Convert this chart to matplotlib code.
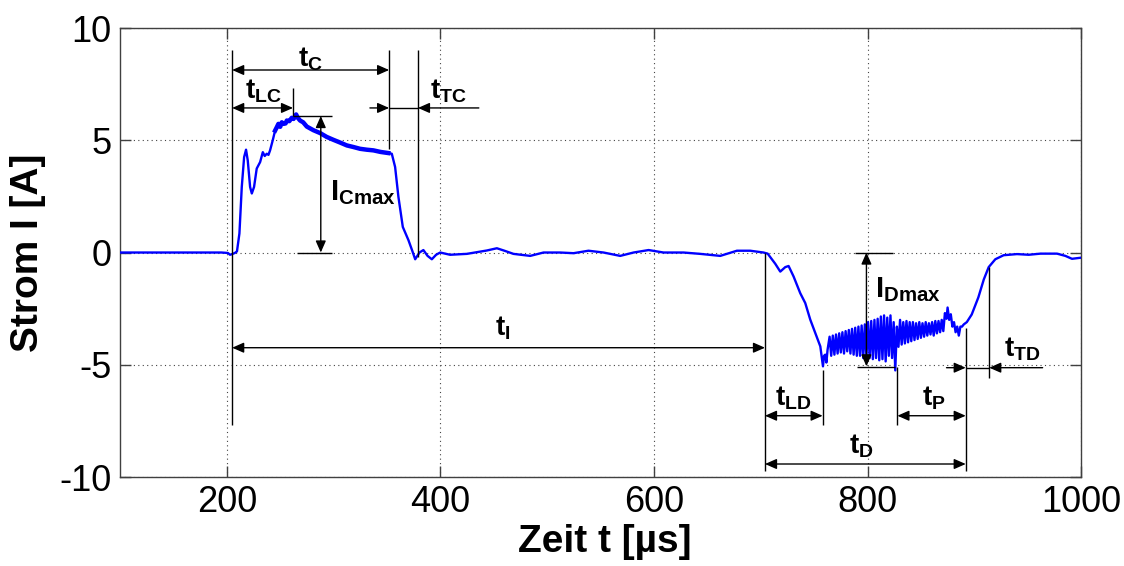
import numpy as np
import matplotlib
matplotlib.use("Agg")
import matplotlib.pyplot as plt

plt.rcParams['font.family'] = ['Liberation Sans', 'DejaVu Sans']
plt.rcParams['mathtext.fontset'] = 'custom'
plt.rcParams['mathtext.rm'] = 'Liberation Sans'
plt.rcParams['mathtext.bf'] = 'Liberation Sans:bold'
plt.rcParams['axes.unicode_minus'] = False

charge_t = [100, 150, 195, 201, 203, 205, 207.5, 209.5, 211.8, 214, 216.2, 218, 219.6,
            221.8, 223.4, 225.5, 228, 231.2, 233.7, 235.5, 237.4, 239, 240.5, 243, 245.2,
            247, 248.3, 250, 251.5, 253, 255, 256.2, 258.5, 260.8, 262.5, 264.9, 266.5,
            268.6, 271.5, 274.9, 281, 287.4, 293.5, 299.8, 306, 312.4, 318.5, 324.8, 331,
            337.3, 344, 351.3, 354.5, 357.6, 360.7, 364.8, 370.1, 373.5, 376.4, 380.4,
            384.1, 388, 392, 396, 399.8]
charge_i = [0.0, 0.0, 0.0, -0.02, -0.1, -0.07, -0.02, 0.05, 0.85, 2.92, 4.25, 4.58, 4.1,
            2.92, 2.63, 2.92, 3.74, 4.03, 4.47, 4.3, 4.4, 4.35, 4.55, 5.0, 5.43,
            5.6, 5.73, 5.6, 5.8, 5.73, 5.75, 5.88, 5.85, 6.0, 5.95, 6.15, 6.0,
            5.88, 5.8, 5.61, 5.45, 5.32, 5.15, 5.02, 4.9, 4.77, 4.7, 4.62, 4.58,
            4.55, 4.48, 4.43, 4.4, 3.81, 2.48, 1.14, 0.55, 0.1, -0.3, 0.0,
            0.11, -0.15, -0.3, -0.1, 0.0]

pause_t = [409.1, 424.8, 443.5, 452.9, 460, 468.4, 484.1, 496.6, 512.2, 524.7, 538.7,
           552.8, 568.4, 580.9, 595, 609, 627.7, 643.3, 662.1, 677.7, 690.2, 702.6]
pause_i = [-0.1, -0.06, 0.09, 0.19, 0.08, -0.06, -0.15, 0.0, 0.0, -0.03, 0.08,
           0.0, -0.15, 0.0, 0.11, 0.0, 0.0, -0.06, -0.15, 0.08, 0.08, 0.0]

fall_t = [706.5, 708.9, 713.6, 718.3, 723, 726.1, 730.8, 737, 741.7, 746.4, 751.1,
          755.8, 757.2, 758.3, 759.3, 760.4, 761.5, 762.6]
fall_i = [-0.05, -0.2, -0.5, -0.85, -0.65, -0.6, -1.07, -1.81, -2.25, -2.99, -3.58,
          -4.18, -4.7, -5.07, -4.6, -4.55, -4.9, -4.33]

osc_t = [764.5, 766.0, 767.5, 769.0, 770.5, 772.0, 773.5, 775.0, 776.5, 778.0, 779.5,
         781.0, 782.5, 784.0, 785.5, 787.0, 788.5, 790.0, 791.5, 793.0, 794.5, 796.0,
         797.5, 799.0, 800.5, 802.0, 803.5, 805.0, 806.5, 808.0, 809.5, 811.0, 812.5,
         814.0, 815.5, 817.0, 818.5, 820.0, 821.5, 823.0, 824.5, 826.0, 827.5, 829.0,
         830.5, 832.0, 833.5, 835.0, 836.5, 838.0, 839.5, 841.0, 842.5, 844.0, 845.5,
         847.0, 848.5, 850.0, 851.5, 853.0, 854.5, 856.0, 857.5, 859.0, 860.5, 862.0,
         863.5, 865.0, 866.5, 868.0, 869.5, 871.0, 872.5, 874.0, 875.0, 876.5, 878.0,
         879.5, 881.0, 882.5, 884.0, 885.5, 887.0, 888.5]
osc_i = [-3.75, -4.6, -3.7, -4.55, -3.65, -4.5, -3.6, -4.45, -3.55, -4.5, -3.5,
         -4.4, -3.45, -4.5, -3.4, -4.55, -3.35, -4.6, -3.3, -4.6, -3.25, -4.7,
         -3.2, -4.65, -3.1, -4.7, -3.05, -4.75, -3.0, -4.7, -2.95, -4.8, -2.85,
         -4.75, -2.8, -4.85, -2.9, -4.6, -2.8, -4.7, -3.1, -5.25, -3.3, -4.2,
         -3.0, -4.1, -3.1, -4.05, -3.05, -4.0, -3.1, -3.95, -3.1, -3.9, -3.15,
         -3.85, -3.1, -3.8, -3.15, -3.75, -3.1, -3.7, -3.15, -3.65, -3.1, -3.7,
         -3.05, -3.6, -3.05, -3.55, -3.0, -3.5, -2.7, -2.95, -2.45, -3.0, -2.75,
         -3.3, -3.1, -3.55, -3.3, -3.7, -3.3, -3.3]

rise_t = [890.2, 893, 897.6, 903.8, 908.9, 913.5, 919.7, 927.5, 940, 951, 962, 977.5,
          985.3, 991.5, 1000]
rise_i = [-3.2, -3.1, -2.76, -2.0, -1.2, -0.65, -0.3, -0.12, -0.07, -0.1, -0.05, -0.05,
          -0.15, -0.28, -0.23]

# characteristic times [us] and currents [A]
t_start = 205
t_c_end = 352
t_tc_end = 379
t_lc = 262
i_cmax = 6.08
t_d_start = 704
t_ld = 758
t_p_start = 828
t_d_end = 892
t_td_end = 914
i_dmax = -5.07

t = np.array(charge_t + pause_t + fall_t + osc_t + rise_t)
i = np.array(charge_i + pause_i + fall_i + osc_i + rise_i)

fig = plt.figure(figsize=(11.24, 5.66), dpi=100)
ax = fig.add_axes([0.1068, 0.1572, 0.855, 0.7933])

ax.plot(t, i, color='#0000ff', lw=1.7, zorder=3)
plateau = (t >= 245) & (t <= 354)
ax.plot(t[plateau], i[plateau], color='#0000ff', lw=3.2, zorder=3)

ax.set_xlim(100, 1000)
ax.set_ylim(-10, 10)
ax.set_xticks([200, 400, 600, 800, 1000])
ax.set_yticks([-10, -5, 0, 5, 10])
ax.grid(True, linestyle=(0, (1, 3)), color='#444444', lw=0.8)
ax.tick_params(direction='in', length=8, width=1, top=True, right=True,
               labelsize=26, pad=6, color='#404040')
for s in ax.spines.values():
    s.set_color('#404040')
    s.set_linewidth(1)

ax.set_xlabel('Zeit t [µs]', fontsize=28, fontweight='bold')
ax.set_ylabel('Strom I [A]', fontsize=28, fontweight='bold')
ax.xaxis.set_label_coords(0.504, -0.105)
ax.yaxis.set_label_coords(-0.077, 0.5)

lk = dict(color='k', lw=1, zorder=4)


def dim(x0, y0, x1, y1, style='<|-|>'):
    ax.annotate('', xy=(x1, y1), xytext=(x0, y0), zorder=5,
                arrowprops=dict(arrowstyle=style + ',head_length=0.5,head_width=0.22',
                                color='k', lw=1, mutation_scale=14,
                                shrinkA=0, shrinkB=0))


def label(x, y, s, size=20):
    ax.text(x, y, s, fontsize=size, ha='left', va='baseline', zorder=6)


# charge phase
ax.vlines(t_start, -7.67, 9.02, **lk)
ax.vlines(t_c_end, 4.6, 9.02, **lk)
ax.vlines(t_tc_end, -0.2, 9.02, **lk)
ax.vlines(t_lc, i_cmax, 7.33, **lk)
dim(t_start, 8.13, t_c_end, 8.13)
dim(t_start, 6.44, t_lc, 6.44)
ax.hlines(6.44, t_c_end, t_tc_end, **lk)
dim(334, 6.44, t_c_end, 6.44, '-|>')
dim(436, 6.44, t_tc_end, 6.44, '-|>')
ax.hlines(i_cmax, t_lc, 298.5, **lk)
ax.hlines(0, 266, 298.5, **lk)
dim(288, i_cmax, 288, 0)
label(266.5, 8.3, r'$\mathbf{t_{C}}$')
label(217, 6.85, r'$\mathbf{t_{LC}}$')
label(390, 6.85, r'$\mathbf{t_{TC}}$')
label(296.5, 2.35, r'$\mathbf{I_{Cmax}}$', 21)

# pause
dim(t_start, -4.24, t_d_start, -4.24)
label(451, -3.7, r'$\mathbf{t_{I}}$')

# discharge phase
ax.vlines(t_d_start, -9.75, 0, **lk)
ax.vlines(t_ld, -7.7, -5.25, **lk)
ax.vlines(t_p_start, -7.7, -5.1, **lk)
ax.vlines(t_d_end, -9.75, -3.35, **lk)
ax.vlines(t_td_end, -5.6, -0.64, **lk)
ax.hlines(0, 788, 824, **lk)
ax.hlines(-5.1, 790, 826, **lk)
dim(799, 0, 799, i_dmax)
dim(t_d_start, -7.27, t_ld, -7.27)
dim(t_p_start, -7.27, t_d_end, -7.27)
dim(t_d_start, -9.42, t_d_end, -9.42)
ax.hlines(-5.13, t_d_end, t_td_end, **lk)
dim(874, -5.13, t_d_end, -5.13, '-|>')
dim(964, -5.13, t_td_end, -5.13, '-|>')
label(807, -2.0, r'$\mathbf{I_{Dmax}}$', 21)
label(713, -6.8, r'$\mathbf{t_{LD}}$')
label(851, -6.8, r'$\mathbf{t_{P}}$')
label(783, -8.95, r'$\mathbf{t_{D}}$')
label(928, -4.62, r'$\mathbf{t_{TD}}$')

fig.savefig('out.png', dpi=100)
